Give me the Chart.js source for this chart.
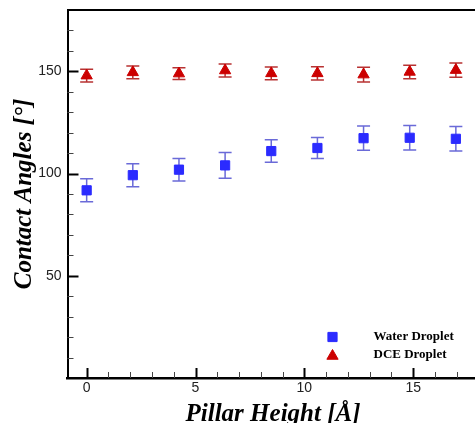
<!DOCTYPE html>
<html>
<head>
<meta charset="utf-8">
<script src="https://cdn.jsdelivr.net/npm/chart.js@4.4.1/dist/chart.umd.min.js"></script>
<style>
  html, body { margin: 0; padding: 0; background: #fff; overflow: hidden; }
  #chart { display: block; }
</style>
</head>
<body>
<canvas id="chart" width="486" height="430"></canvas>
<script>
// pillar heights (Å) and measured angles
const pillarHeights = [0, 2.12, 4.24, 6.36, 8.48, 10.6, 12.72, 14.84, 16.96];
const waterAngles = [91.8, 99.2, 101.9, 104.0, 111.0, 112.5, 117.3, 117.5, 117.0];
const waterErrors = [5.6, 5.6, 5.5, 6.3, 5.5, 5.1, 5.9, 6.0, 6.0];
const dceAngles = [147.9, 149.5, 148.9, 150.4, 149.0, 149.0, 148.4, 149.7, 150.6];
const dceErrors = [3.1, 3.1, 2.9, 3.2, 3.1, 3.2, 3.6, 3.3, 3.5];
const seriesNames = ['Water Droplet', 'DCE Droplet'];
const xTickLabels = [0, 5, 10, 15];
const yTickLabels = [50, 100, 150];

const serif = "'Liberation Serif', 'Times New Roman', serif";
const sans = "'Liberation Sans', Arial, sans-serif";

function drawMarker(ctx, style, x, y, r, color) {
    ctx.beginPath();
    if (style === 'triangle') {
        let rad = 0;
        ctx.moveTo(x + Math.sin(rad) * r, y - Math.cos(rad) * r);
        rad += Math.PI * 2 / 3;
        ctx.lineTo(x + Math.sin(rad) * r, y - Math.cos(rad) * r);
        rad += Math.PI * 2 / 3;
        ctx.lineTo(x + Math.sin(rad) * r, y - Math.cos(rad) * r);
        ctx.closePath();
    } else {
        const s = Math.SQRT1_2 * r;
        ctx.rect(x - s, y - s, 2 * s, 2 * s);
    }
    ctx.fillStyle = color;
    ctx.strokeStyle = color;
    ctx.lineWidth = 1;
    ctx.fill();
    ctx.stroke();
}

// error bars go under the markers
const errorBars = {
    id: 'errorBars',
    beforeDatasetsDraw(chart) {
        const { ctx, scales: { x, y } } = chart;
        chart.data.datasets.forEach(ds => {
            ctx.save();
            ctx.strokeStyle = ds.errorColor;
            ctx.lineWidth = 1.5;
            ds.data.forEach((pt, i) => {
                const px = x.getPixelForValue(pt.x);
                const top = y.getPixelForValue(pt.y + ds.errors[i]);
                const bot = y.getPixelForValue(pt.y - ds.errors[i]);
                ctx.beginPath();
                ctx.moveTo(px, top); ctx.lineTo(px, bot);
                ctx.moveTo(px - 6.5, top); ctx.lineTo(px + 6.5, top);
                ctx.moveTo(px - 6.5, bot); ctx.lineTo(px + 6.5, bot);
                ctx.stroke();
            });
            ctx.restore();
        });
    }
};

// top frame line + inward tick marks
const frameTicks = {
    id: 'frameTicks',
    afterDraw(chart) {
        const { ctx, chartArea: a, scales: { x, y } } = chart;
        ctx.save();
        ctx.strokeStyle = '#000';
        ctx.lineWidth = 2;
        ctx.beginPath();
        ctx.moveTo(a.left, a.top);
        ctx.lineTo(a.right, a.top);
        ctx.stroke();

        for (let v = 10; v < y.max; v += 10) {
            const major = v % 50 === 0;
            const py = Math.round(y.getPixelForValue(v)) + 0.5;
            ctx.lineWidth = major ? 2 : 1;
            ctx.strokeStyle = major ? '#000' : '#444';
            ctx.beginPath();
            ctx.moveTo(a.left, py);
            ctx.lineTo(a.left + (major ? 11 : 6), py);
            ctx.stroke();
        }
        for (let v = Math.ceil(x.min); v <= x.max; v++) {
            const major = v % 5 === 0;
            const px = Math.round(x.getPixelForValue(v)) + 0.5;
            ctx.lineWidth = major ? 2 : 1;
            ctx.strokeStyle = major ? '#000' : '#444';
            ctx.beginPath();
            ctx.moveTo(px, a.bottom);
            ctx.lineTo(px, a.bottom - (major ? 10 : 6));
            ctx.stroke();
        }
        ctx.restore();
    }
};

// legend sits inside the plot, lower right
const cornerLegend = {
    id: 'cornerLegend',
    afterDraw(chart) {
        const { ctx, chartArea: a } = chart;
        ctx.save();
        ctx.font = 'bold 13px ' + serif;
        ctx.textBaseline = 'middle';
        chart.data.datasets.forEach((ds, i) => {
            const cy = a.bottom - 41 + i * 17.5;
            drawMarker(ctx, ds.pointStyle, a.right - 146, cy + (ds.pointStyle === 'triangle' ? 1.5 : 0), 6.5, ds.backgroundColor);
            ctx.fillStyle = '#000';
            ctx.fillText(ds.label, a.right - 105, cy);
        });
        ctx.restore();
    }
};

function noPad(s) {
    s.paddingTop = 0;
    s.paddingBottom = 0;
    s.paddingLeft = 0;
    s.paddingRight = 0;
}

new Chart(document.getElementById('chart'), {
    type: 'scatter',
    data: {
        datasets: [{
            label: seriesNames[0],
            data: pillarHeights.map((h, i) => ({ x: h, y: waterAngles[i] })),
            errors: waterErrors,
            errorColor: '#6a6ad8',
            pointStyle: 'rect',
            pointRadius: 6.5,
            backgroundColor: '#2b2bff',
            borderColor: '#2b2bff',
            borderWidth: 1
        }, {
            label: seriesNames[1],
            data: pillarHeights.map((h, i) => ({ x: h, y: dceAngles[i] })),
            errors: dceErrors,
            errorColor: '#b83232',
            pointStyle: 'triangle',
            pointRadius: 6.5,
            backgroundColor: '#cc0000',
            borderColor: '#cc0000',
            borderWidth: 1
        }]
    },
    options: {
        responsive: false,
        animation: false,
        layout: { padding: { top: 10, right: 2, left: 0, bottom: 0 } },
        plugins: {
            legend: { display: false },
            tooltip: { enabled: false }
        },
        scales: {
            x: {
                type: 'linear',
                min: -0.88,
                max: 18,
                afterBuildTicks: s => { s.ticks = xTickLabels.map(v => ({ value: v })); },
                afterFit: s => { s.height = 52; noPad(s); },
                grid: { drawOnChartArea: false, drawTicks: false },
                border: { display: true, color: '#000', width: 2.5 },
                ticks: { padding: 2, color: '#222', maxRotation: 0, font: { family: sans, size: 14 } },
                title: {
                    display: true,
                    text: 'Pillar Height [Å]',
                    color: '#000',
                    font: { family: serif, size: 25, style: 'italic', weight: 'bold' },
                    padding: { top: 0, bottom: 0 }
                }
            },
            y: {
                min: 0,
                max: 180,
                afterBuildTicks: s => { s.ticks = yTickLabels.map(v => ({ value: v })); },
                afterFit: s => { s.width = 67.5; noPad(s); },
                grid: { drawOnChartArea: false, drawTicks: false },
                border: { display: true, color: '#000', width: 2 },
                ticks: { padding: 6, color: '#222', font: { family: sans, size: 14 } },
                title: {
                    display: true,
                    text: 'Contact Angles [°]',
                    color: '#000',
                    font: { family: serif, size: 25, style: 'italic', weight: 'bold' },
                    padding: { top: 10, bottom: 0 }
                }
            }
        }
    },
    plugins: [errorBars, frameTicks, cornerLegend]
});
</script>
</body>
</html>
